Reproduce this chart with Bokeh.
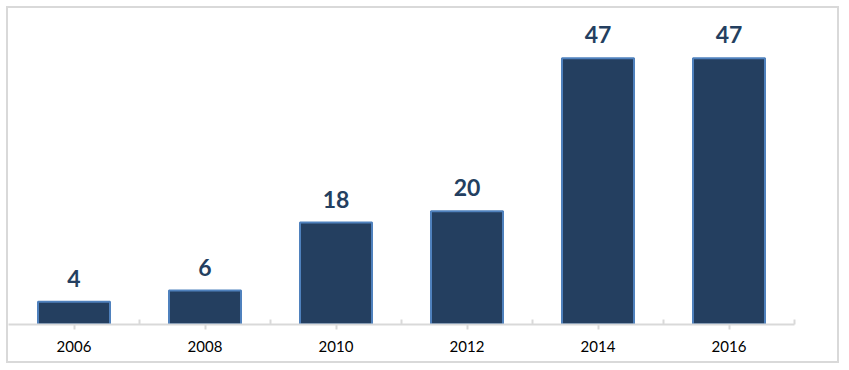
from bokeh.plotting import figure
from bokeh.models import ColumnDataSource, LabelSet, Range1d, FixedTicker
from bokeh.core.properties import value
from bokeh.embed import file_html
from bokeh.resources import INLINE

years = ["2006", "2008", "2010", "2012", "2014", "2016"]
counts = [4, 6, 18, 20, 47, 47]

xpos = [i + 0.5 for i in range(len(years))]
source = ColumnDataSource(dict(x=xpos, year=years, count=counts,
                               label=[str(c) for c in counts]))

p = figure(width=833, height=357, output_backend="svg", toolbar_location=None,
           x_range=Range1d(0, len(years)), y_range=Range1d(0, 55.8),
           min_border_left=0, min_border_right=47, min_border_top=0,
           min_border_bottom=41)
p.styles = {"border": "2px solid #d9d9d9", "box-sizing": "border-box",
            "margin-left": "6px", "margin-top": "6px"}
p.outline_line_color = None
p.grid.visible = False
p.yaxis.visible = False

p.vbar(x="x", top="count", width=0.55, bottom=0, source=source,
       fill_color="#243f60", line_color="#4f81bd", line_width=2)

labels = LabelSet(x="x", y="count", text="label", source=source,
                  text_align="center", text_baseline="alphabetic", y_offset=15,
                  text_font=value("Lato"), text_font_style="bold",
                  text_font_size="23px", text_color="#243f60")
p.add_layout(labels)

ax = p.xaxis[0]
ax.ticker = FixedTicker(ticks=xpos, minor_ticks=list(range(1, len(years) + 1)))
ax.major_label_overrides = {x: y for x, y in zip(xpos, years)}
ax.axis_line_color = "#d9d9d9"
ax.axis_line_width = 2
ax.major_tick_line_color = "#d9d9d9"
ax.major_tick_line_width = 2
ax.major_tick_in = 0
ax.major_tick_out = 5
ax.minor_tick_line_color = "#d9d9d9"
ax.minor_tick_line_width = 2
ax.minor_tick_in = 5
ax.minor_tick_out = 0
ax.major_label_standoff = 11
ax.major_label_text_font = "Lato"
ax.major_label_text_font_size = "15px"
ax.major_label_text_color = "#000000"

open("out.html", "w").write(file_html(p, INLINE))
